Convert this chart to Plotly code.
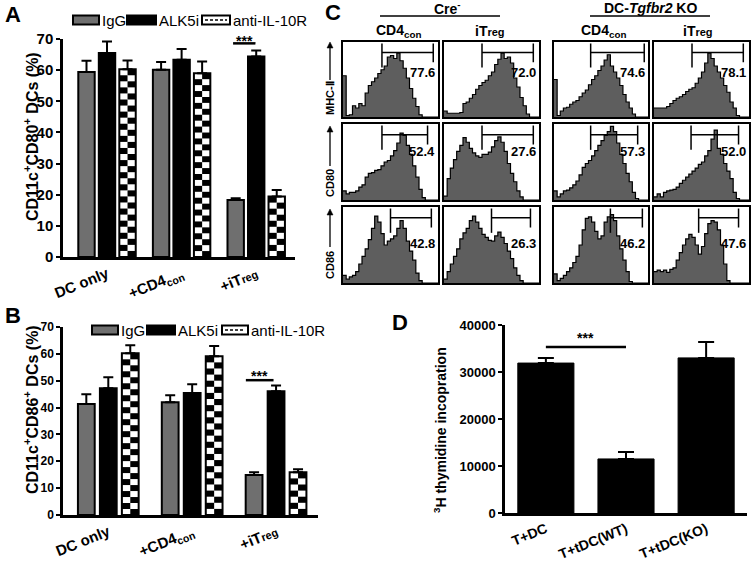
import plotly.graph_objects as go

W, H = 751, 570
def PX(x): return x / W
def PY(y): return 1 - y / H

FONT = "Liberation Sans, Arial, sans-serif"

# ---------------- data ----------------
groups = ["DC only", "+CD4<sub>con</sub>", "+iT<span style='font-size:11px'>reg</span>"]
series = ["IgG", "ALK5i", "anti-IL-10R"]

a_igg = [59.4, 60.1, 18.3]
a_igg_err = [3.6, 2.5, 0.6]
a_alk = [65.5, 63.3, 64.4]
a_alk_err = [3.7, 3.5, 1.9]
a_anti = [60.3, 59.0, 19.4]
a_anti_err = [2.8, 3.8, 2.1]

b_igg = [41.3, 42.0, 14.9]
b_igg_err = [3.7, 2.6, 1.0]
b_alk = [47.2, 45.4, 46.1]
b_alk_err = [4.1, 3.3, 2.1]
b_anti = [60.2, 59.1, 15.9]
b_anti_err = [3.0, 3.8, 1.1]

d_cats = ["T+DC", "T+tDC(WT)", "T+tDC(KO)"]
d_vals = [31900, 11500, 33000]
d_err = [1100, 1500, 3400]

c_cols = ["CD4<sub>con</sub>", "iT<span style='font-size:11px'>reg</span>",
          "CD4<sub>con</sub>", "iT<span style='font-size:11px'>reg</span>"]
c_rows = ["MHC-Ⅱ", "CD80", "CD86"]
c_pct = [["77.6", "72.0", "74.6", "78.1"],
         ["52.4", "27.6", "57.3", "52.0"],
         ["42.8", "26.3", "46.2", "47.6"]]

# histogram heights (fraction of box height), 30 bins each
h_r1c1 = [0.55, 0.02, 0.03, 0.15, 0.12, 0.18, 0.15, 0.32, 0.42, 0.47, 0.52, 0.58, 0.63, 0.68, 0.80,
          0.82, 0.78, 0.85, 0.75, 0.65, 0.52, 0.38, 0.25, 0.14, 0.03, 0, 0, 0, 0, 0]
h_r1c2 = [0.08, 0.05, 0.05, 0.05, 0.05, 0.06, 0.18, 0.20, 0.25, 0.30, 0.37, 0.42, 0.46, 0.49, 0.55,
          0.60, 0.70, 0.77, 0.85, 0.78, 0.80, 0.72, 0.52, 0.40, 0.26, 0.15, 0.04, 0, 0, 0]
h_r1c3 = [0.50, 0.02, 0.08, 0.12, 0.13, 0.17, 0.20, 0.22, 0.27, 0.32, 0.36, 0.43, 0.50, 0.55, 0.62,
          0.68, 0.76, 0.83, 0.68, 0.60, 0.52, 0.42, 0.30, 0.20, 0.12, 0.04, 0, 0, 0, 0]
h_r1c4 = [0.12, 0.12, 0.12, 0.12, 0.14, 0.18, 0.22, 0.25, 0.27, 0.30, 0.34, 0.37, 0.39, 0.45, 0.52,
          0.60, 0.72, 0.85, 0.78, 0.68, 0.60, 0.52, 0.42, 0.33, 0.20, 0.12, 0.02, 0, 0, 0]
h_r2c1 = [0.12, 0.08, 0.10, 0.10, 0.12, 0.17, 0.20, 0.30, 0.35, 0.36, 0.39, 0.40, 0.45, 0.50, 0.52,
          0.58, 0.65, 0.75, 0.88, 0.85, 0.72, 0.60, 0.45, 0.30, 0.14, 0.03, 0, 0, 0, 0]
h_r2c2 = [0.05, 0.28, 0.42, 0.53, 0.64, 0.72, 0.82, 0.76, 0.68, 0.62, 0.58, 0.56, 0.60, 0.60, 0.63,
          0.70, 0.78, 0.83, 0.76, 0.64, 0.48, 0.35, 0.24, 0.12, 0.04, 0, 0, 0, 0, 0]
h_r2c3 = [0.12, 0.04, 0.08, 0.12, 0.13, 0.16, 0.20, 0.25, 0.33, 0.43, 0.48, 0.52, 0.58, 0.65, 0.72,
          0.78, 0.85, 0.90, 0.97, 0.90, 0.75, 0.60, 0.48, 0.35, 0.24, 0.10, 0.02, 0, 0, 0]
h_r2c4 = [0.04, 0.08, 0.04, 0.10, 0.12, 0.13, 0.14, 0.17, 0.22, 0.26, 0.30, 0.34, 0.38, 0.42, 0.47,
          0.50, 0.58, 0.65, 0.80, 0.92, 0.68, 0.60, 0.48, 0.38, 0.28, 0.10, 0.02, 0, 0, 0]
h_r3c1 = [0.10, 0.05, 0.08, 0.10, 0.15, 0.25, 0.35, 0.45, 0.57, 0.72, 0.88, 0.80, 0.65, 0.50, 0.55,
          0.58, 0.62, 0.72, 0.82, 0.72, 0.55, 0.42, 0.30, 0.13, 0.03, 0, 0, 0, 0, 0]
h_r3c2 = [0.05, 0.15, 0.25, 0.35, 0.45, 0.58, 0.66, 0.72, 0.82, 0.88, 0.80, 0.72, 0.64, 0.60, 0.56,
          0.55, 0.62, 0.67, 0.60, 0.52, 0.42, 0.32, 0.20, 0.10, 0.03, 0, 0, 0, 0, 0]
h_r3c3 = [0.12, 0.03, 0.06, 0.10, 0.15, 0.20, 0.27, 0.35, 0.50, 0.70, 0.85, 0.87, 0.80, 0.68, 0.58,
          0.62, 0.80, 0.87, 0.90, 0.82, 0.62, 0.45, 0.30, 0.15, 0.02, 0, 0, 0, 0, 0]
h_r3c4 = [0.15, 0.17, 0.15, 0.17, 0.14, 0.18, 0.20, 0.30, 0.40, 0.50, 0.58, 0.64, 0.60, 0.50, 0.38,
          0.48, 0.65, 0.78, 0.82, 0.80, 0.70, 0.50, 0.25, 0.03, 0, 0, 0, 0, 0, 0]
hists = [[h_r1c1, h_r1c2, h_r1c3, h_r1c4],
         [h_r2c1, h_r2c2, h_r2c3, h_r2c4],
         [h_r3c1, h_r3c2, h_r3c3, h_r3c4]]

# gate boundaries (fraction of axis)
gates = [[(0.41, 0.95), (0.40, 0.94), (0.39, 0.96), (0.40, 0.94)],
         [(0.41, 0.89), (0.40, 0.94), (0.39, 0.89), (0.39, 0.89)],
         [(0.50, 0.93), (0.50, 0.91), (0.60, 0.94), (0.47, 0.89)]]

# ---------------- layout geometry ----------------
A_X = (63, 295); A_Y = (39, 257); A_RANGE = (-0.59, 2.52)
B_X = (63, 318); B_Y = (327, 515); B_RANGE = (-0.54, 2.50)
D_X = (505, 747); D_Y = (325, 513); D_RANGE = (-0.51, 2.51)
C_COLS = [(343, 438), (444, 539), (554, 648), (654, 749)]
C_ROWS = [(42, 117), (124, 200), (207, 283)]

GRAY = "#6f6f6f"
fig = go.Figure()
shapes = []
annots = []

def bold(size):
    return dict(family=FONT, size=size, color="black", weight="bold")

def ptext(x, y, text, size, angle=0, xanchor="center", yanchor="middle", weight_bold=True):
    t = f"<b>{text}</b>" if weight_bold else text
    annots.append(dict(xref="paper", yref="paper", x=PX(x), y=PY(y), text=t, textangle=angle,
                       showarrow=False, xanchor=xanchor, yanchor=yanchor,
                       font=dict(family=FONT, size=size, color="black")))

def bar_panel(xa, ya, vals_list, errs_list, width, step, ypx_per_unit):
    xs = [0, 1, 2]
    start = -step - width / 2
    colors = [GRAY, "black", "white"]
    for j, (vals, errs) in enumerate(zip(vals_list, errs_list)):
        fig.add_trace(go.Bar(
            x=xs, y=vals, offset=start + j * step, width=width,
            marker=dict(color=colors[j], line=dict(color="black", width=2)),
            error_y=dict(type="data", array=errs, arrayminus=[0] * 3, symmetric=False,
                         color="black", thickness=2, width=5),
            xaxis=xa, yaxis=ya, showlegend=False, name=series[j]))
    # checkerboard for third series
    cell = 6.0 / ypx_per_unit
    for xc, v in zip(xs, vals_list[2]):
        x0 = xc + start + 2 * step
        x1 = x0 + width
        xm = (x0 + x1) / 2
        n = max(1, round(v / cell))
        hh = v / n
        for r in range(n):
            for c in range(2):
                if (r + c) % 2 == 1:
                    shapes.append(dict(type="rect", xref=xa, yref=ya,
                                       x0=[x0, xm][c], x1=[xm, x1][c],
                                       y0=r * hh, y1=(r + 1) * hh,
                                       fillcolor="black", line=dict(width=0), layer="above"))

bar_panel("x", "y", [a_igg, a_alk, a_anti], [a_igg_err, a_alk_err, a_anti_err],
          0.22, 0.275, (A_Y[1] - A_Y[0]) / 70)
bar_panel("x2", "y2", [b_igg, b_alk, b_anti], [b_igg_err, b_alk_err, b_anti_err],
          0.20, 0.262, (B_Y[1] - B_Y[0]) / 70)

fig.add_trace(go.Bar(x=[0, 1, 2], y=d_vals, width=0.7,
                     marker=dict(color="black", line=dict(color="black", width=1)),
                     error_y=dict(type="data", array=d_err, arrayminus=[0] * 3, symmetric=False,
                                  color="black", thickness=2, width=8),
                     xaxis="x3", yaxis="y3", showlegend=False))

# histograms
NB = 30
edges = [i / NB for i in range(NB + 1)]
layout_axes = {}
k = 4
for r in range(3):
    for c in range(4):
        h = hists[r][c]
        fig.add_trace(go.Scatter(x=edges, y=h + [h[-1]], mode="lines",
                                 line=dict(shape="hv", color="black", width=1.2),
                                 fill="tozeroy", fillcolor="#5e5e5e",
                                 xaxis=f"x{k}", yaxis=f"y{k}", showlegend=False,
                                 hoverinfo="skip"))
        cx, cy = C_COLS[c], C_ROWS[r]
        common = dict(range=[0, 1], showline=True, mirror=True, linecolor="black", linewidth=2,
                      showticklabels=False, ticks="", showgrid=False, zeroline=False, fixedrange=True)
        layout_axes[f"xaxis{k}"] = dict(domain=[PX(cx[0]), PX(cx[1])], anchor=f"y{k}", **common)
        layout_axes[f"yaxis{k}"] = dict(domain=[PY(cy[1]), PY(cy[0])], anchor=f"x{k}", **common)
        g0, g1 = gates[r][c]
        gy = 0.86
        for (xx0, yy0, xx1, yy1) in [(g0, gy, g1, gy), (g0, 0.98, g0, 0.66), (g1, 0.98, g1, 0.73)]:
            shapes.append(dict(type="line", xref=f"x{k}", yref=f"y{k}", x0=xx0, y0=yy0, x1=xx1, y1=yy1,
                               line=dict(color="black", width=1.5), layer="above"))
        annots.append(dict(xref=f"x{k}", yref=f"y{k}", x=0.985, y=[0.60, 0.64, 0.52][r],
                           text=f"<b>{c_pct[r][c]}</b>", showarrow=False, xanchor="right",
                           yanchor="middle", font=dict(family=FONT, size=13, color="black")))
        k += 1

# axes for bar panels
def bar_axes(xd, yd, xr, yr, dtick, tickfs, ticktext, angle, xfs):
    xa = dict(domain=[PX(xd[0]), PX(xd[1])], range=list(xr), showline=True, linecolor="black",
              linewidth=2.5, ticks="", tickvals=[0, 1, 2], ticktext=ticktext, tickangle=angle,
              tickfont=bold(xfs), showgrid=False, zeroline=False, fixedrange=True)
    ya = dict(domain=[PY(yd[1]), PY(yd[0])], range=list(yr), showline=True, linecolor="black",
              linewidth=2.5, ticks="outside", ticklen=4, tickwidth=2, tickcolor="black",
              dtick=dtick, tickfont=bold(tickfs), showgrid=False, zeroline=False, fixedrange=True,
              tickformat="d")
    return xa, ya

xa, ya = bar_axes(A_X, A_Y, A_RANGE, (0, 70), 10, 15, groups, -22, 15)
xa.update(anchor="y"); ya.update(anchor="x")
xb, yb = bar_axes(B_X, B_Y, B_RANGE, (0, 70), 10, 12, groups, -22, 15)
xb.update(anchor="y2"); yb.update(anchor="x2")
xd, yd = bar_axes(D_X, D_Y, D_RANGE, (0, 40000), 10000, 13, d_cats, -22, 14)
xd.update(anchor="y3"); yd.update(anchor="x3")

# significance markers (line, stars just above it)
for xref, yref, xx0, xx1, yy, shift in [("x", "y", 1.69, 1.99, 68.6, -8),
                                        ("x2", "y2", 1.64, 1.97, 50.2, -6),
                                        ("x3", "y3", 0.0, 1.0, 35300, -1)]:
    shapes.append(dict(type="line", xref=xref, yref=yref, x0=xx0, x1=xx1, y0=yy, y1=yy,
                       line=dict(color="black", width=2.5)))
    annots.append(dict(xref=xref, yref=yref, x=(xx0 + xx1) / 2, y=yy, yshift=shift, text="<b>***</b>",
                       showarrow=False, xanchor="center", yanchor="bottom",
                       font=dict(family=FONT, size=14, color="black")))

# legends
def legend(yc, boxes, texts):
    fills = [GRAY, "black", "white"]
    for j, ((x0, x1), tx) in enumerate(zip(boxes, texts)):
        shapes.append(dict(type="rect", xref="paper", yref="paper", x0=PX(x0), x1=PX(x1),
                           y0=PY(yc + 4.5), y1=PY(yc - 4.5), fillcolor=fills[j],
                           line=dict(color="black", width=2)))
        if j == 2:
            shapes.append(dict(type="line", xref="paper", yref="paper", x0=PX(x0 + 3), x1=PX(x1 - 3),
                               y0=PY(yc), y1=PY(yc), line=dict(color="black", width=1.5, dash="3px,2px")))
        ptext(tx, yc, series[j], 15, xanchor="left", weight_bold=False)

legend(20, [(73, 99), (127, 156), (202, 230)], [100, 157, 231])
legend(330, [(92, 118), (147, 175), (222, 248)], [119, 176, 249])

# axis titles
ptext(31, 137, "CD11c<sup>+</sup>CD80<sup>+</sup> DCs (%)", 16, angle=-90)
ptext(31, 410, "CD11c<sup>+</sup>CD86<sup>+</sup> DCs (%)", 16, angle=-90)
ptext(440, 430, "<sup>3</sup>H thymidine incopration", 14, angle=-90)

# panel letters
for t, x, y in [("A", 13, 15), ("B", 13, 316), ("C", 333, 13), ("D", 400, 322)]:
    ptext(x, y, t, 22)

# C headers
ptext(447, 8, "Cre<sup>-</sup>", 14)
ptext(650, 8, "DC-<i>Tgfbr2</i> KO", 14)
for (x0, x1) in [(380, 500), (590, 710)]:
    shapes.append(dict(type="line", xref="paper", yref="paper", x0=PX(x0), x1=PX(x1), y0=PY(16), y1=PY(16),
                       line=dict(color="black", width=1.5)))
for c, xc in enumerate([398, 490, 603, 698]):
    ptext(xc, 31, c_cols[c], 14)

# row labels with arrows
for r, (tc, head, tail) in enumerate([(98, 42, 80), (183, 126, 166), (265, 209, 247)]):
    ptext(330, tc, c_rows[r], 11, angle=-90)
    shapes.append(dict(type="line", xref="paper", yref="paper", x0=PX(330), x1=PX(330),
                       y0=PY(tail), y1=PY(head + 4), line=dict(color="black", width=1.3)))
    shapes.append(dict(type="path", xref="paper", yref="paper",
                       path=f"M {PX(327)} {PY(head + 6)} L {PX(333)} {PY(head + 6)} L {PX(330)} {PY(head)} Z",
                       fillcolor="black", line=dict(color="black", width=0.5)))

fig.update_layout(
    width=W, height=H, margin=dict(l=0, r=0, t=0, b=0, autoexpand=False),
    paper_bgcolor="white", plot_bgcolor="rgba(0,0,0,0)", barmode="overlay",
    xaxis=xa, yaxis=ya, xaxis2=xb, yaxis2=yb, xaxis3=xd, yaxis3=yd,
    shapes=shapes, annotations=annots, showlegend=False,
    font=dict(family=FONT, color="black"),
)
fig.update_layout(**layout_axes)
fig.write_html("out.html", config={"displayModeBar": False},
               post_script="document.body.style.margin='0';document.body.style.padding='0';")
